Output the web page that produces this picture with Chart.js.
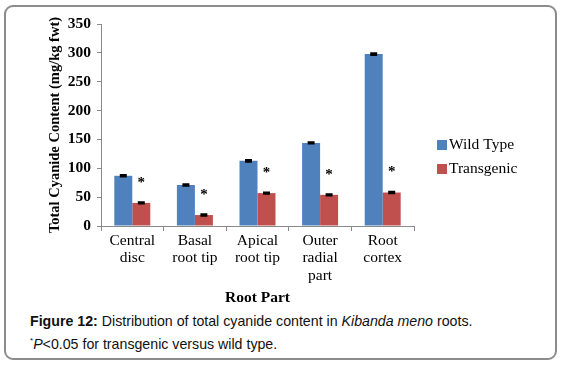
<!DOCTYPE html>
<html><head><meta charset="utf-8">
<script src="https://cdn.jsdelivr.net/npm/chart.js@4/dist/chart.umd.min.js"></script>
<style>
html,body{margin:0;padding:0;background:#fff;width:562px;height:365px;overflow:hidden;}
#frame{position:absolute;left:4px;top:5px;width:549px;height:351px;border:2px solid #8c8c8c;border-radius:9px;}
#wrap{position:absolute;left:0;top:0;width:562px;height:310px;}
#cap{position:absolute;left:30px;top:311px;font-family:"Liberation Sans",Arial,sans-serif;font-size:14.2px;line-height:20px;color:#111;white-space:nowrap;}
</style></head>
<body>
<div id="frame"></div>
<div id="wrap"><canvas id="c" width="562" height="310"></canvas></div>
<div id="cap"><b>Figure 12:</b> Distribution of total cyanide content in <i>Kibanda meno</i> roots.<br><sup style="font-size:8px">*</sup><i>P</i>&lt;0.05 for transgenic versus wild type.</div>
<script>
const categories = [['Central','disc'],['Basal','root tip'],['Apical','root tip'],['Outer','radial','part'],['Root','cortex']];
const seriesNames = ['Wild Type','Transgenic'];
const wildType = [87, 71, 113, 144, 298];
const transgenic = [40, 19, 57, 54, 58];
const wildErr = [1.2, 1.2, 1.5, 1.2, 1.5];
const transErr = [1.2, 1.2, 1.0, 1.0, 1.2];
const significant = [true, true, true, true, true];
const yTicks = [0, 50, 100, 150, 200, 250, 300, 350];

const serif = '"Liberation Serif","Times New Roman",serif';
const errs = [wildErr, transErr];

const errorBars = {
  id:'errorBars',
  afterDatasetsDraw(chart){
    const ctx = chart.ctx, y = chart.scales.y;
    ctx.save();
    ctx.strokeStyle = '#000'; ctx.lineWidth = 2;
    chart.data.datasets.forEach((ds, di) => {
      const meta = chart.getDatasetMeta(di);
      meta.data.forEach((bar, i) => {
        const v = ds.data[i], e = errs[di][i];
        const yt = y.getPixelForValue(v + e), yb = y.getPixelForValue(v - e);
        ctx.beginPath();
        ctx.moveTo(bar.x, yt); ctx.lineTo(bar.x, yb);
        ctx.moveTo(bar.x - 3.5, yt); ctx.lineTo(bar.x + 3.5, yt);
        ctx.moveTo(bar.x - 3.5, yb); ctx.lineTo(bar.x + 3.5, yb);
        ctx.stroke();
      });
    });
    const meta = chart.getDatasetMeta(1);
    ctx.fillStyle = '#000';
    ctx.font = 'bold 15px ' + serif;
    ctx.textAlign = 'center'; ctx.textBaseline = 'middle';
    meta.data.forEach((bar, i) => {
      if (significant[i]) ctx.fillText('*', bar.x, y.getPixelForValue(transgenic[i]) - 20);
    });
    ctx.restore();
  }
};

const customLegend = {
  id:'customLegend',
  afterDraw(chart){
    const ctx = chart.ctx;
    ctx.save();
    ctx.font = '15.5px ' + serif;
    ctx.textBaseline = 'middle'; ctx.textAlign = 'left';
    chart.data.datasets.forEach((ds, i) => {
      const yy = 145 + i * 24;
      ctx.fillStyle = ds.backgroundColor;
      ctx.fillRect(437, yy - 5, 10, 10);
      ctx.fillStyle = '#000';
      ctx.fillText(ds.label, 449, yy);
    });
    ctx.restore();
  }
};

new Chart(document.getElementById('c'), {
  type:'bar',
  data:{
    labels: categories,
    datasets:[
      {label: seriesNames[0], data: wildType, backgroundColor:'#4F81BD', categoryPercentage:0.575, barPercentage:1},
      {label: seriesNames[1], data: transgenic, backgroundColor:'#C0504D', categoryPercentage:0.575, barPercentage:1}
    ]
  },
  options:{
    responsive:false, animation:false,
    layout:{padding:{left:47, right:148, top:24, bottom:0}},
    plugins:{legend:{display:false}, tooltip:{enabled:false}},
    scales:{
      x:{
        grid:{drawOnChartArea:false, drawTicks:true, tickLength:5, color:'#8a8a8a', offset:true},
        border:{display:true, color:'#8a8a8a'},
        ticks:{color:'#000', padding:1, font:{family:serif, size:15.5, lineHeight:'17.5px'}, maxRotation:0, autoSkip:false},
        title:{display:true, text:'Root Part', color:'#000', font:{family:serif, size:15.5, weight:'bold'}, padding:{top:2,bottom:3}},
        afterFit(s){ s.height = 310 - 226; }
      },
      y:{
        min:0, max:350,
        afterBuildTicks(s){ s.ticks = yTicks.map(v => ({value:v})); },
        grid:{drawOnChartArea:false, drawTicks:true, tickLength:4, color:'#8a8a8a'},
        border:{display:true, color:'#8a8a8a'},
        ticks:{color:'#000', padding:6, font:{family:serif, size:15.5, weight:'bold'}},
        title:{display:true, text:'Total Cyanide Content (mg/kg fwt)', color:'#000', font:{family:serif, size:14.5, weight:'bold'}, padding:{top:0,bottom:4}},
        afterFit(s){ s.width = 101 - 47; }
      }
    }
  },
  plugins:[errorBars, customLegend]
});
</script>
</body></html>
